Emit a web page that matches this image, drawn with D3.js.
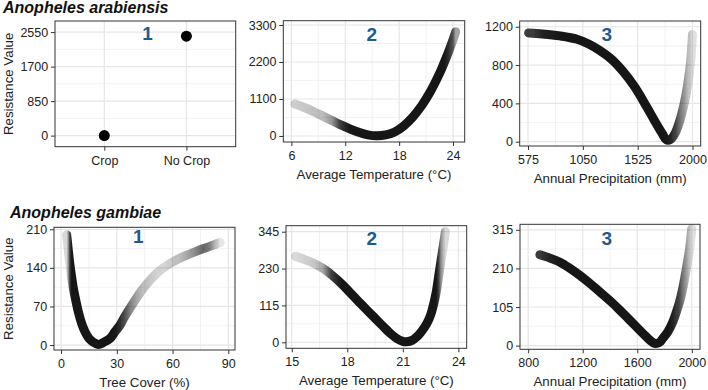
<!DOCTYPE html>
<html><head><meta charset="utf-8">
<script src="https://cdn.jsdelivr.net/npm/d3@7"></script>
<style>
html,body{margin:0;padding:0;background:#fff;}
svg{display:block;font-family:"Liberation Sans",Arial,Helvetica,sans-serif;}
</style></head><body>
<svg id="chart" width="708" height="390"></svg>
<script>
// ---------- DATA ----------
const speciesTitles = ["Anopheles arabiensis", "Anopheles gambiae"];
const yAxisTitle = "Resistance Value";
const panelNumbers = ["1", "2", "3"];

// Anopheles arabiensis – 1: crop
const araCropCategories = ["Crop", "No Crop"];
const araCropValues = [0, 2450];
const araCropTicksY = [0, 850, 1700, 2550];

// Anopheles arabiensis – 2: average temperature
const araTempX = [6.4, 7.5, 8.5, 9.5, 10.5, 11.5, 12.5, 13.5, 14.5, 15.5, 16.5, 17.5, 18.5, 19.5, 20.5, 21.5, 22.5, 23.0, 23.5, 24.0, 24.3];
const araTempY = [950, 840, 720, 590, 460, 330, 210, 110, 35, 5, 30, 120, 300, 560, 900, 1330, 1860, 2170, 2500, 2860, 3100];
const araTempAlpha = [0.2, 0.22, 0.25, 0.3, 0.45, 0.85, 1, 1, 1, 1, 1, 1, 1, 1, 1, 1, 1, 1, 0.9, 0.7, 0.4];
const araTempTicksX = [6, 12, 18, 24];
const araTempTicksY = [0, 1100, 2200, 3300];

// Anopheles arabiensis – 3: annual precipitation
const araPrecX = [580, 700, 850, 1000, 1100, 1200, 1300, 1400, 1500, 1600, 1680, 1740, 1775, 1810, 1850, 1890, 1930, 1960, 1985, 2000];
const araPrecY = [1135, 1125, 1105, 1070, 1020, 950, 860, 731, 570, 370, 200, 80, 18, 25, 90, 220, 410, 610, 850, 1120];
const araPrecAlpha = [0.8, 0.95, 1, 1, 1, 1, 1, 1, 1, 1, 1, 1, 1, 0.95, 0.8, 0.6, 0.45, 0.3, 0.2, 0.12];
const araPrecTicksX = [575, 1050, 1525, 2000];
const araPrecTicksY = [0, 400, 800, 1200];

// Anopheles gambiae – 1: tree cover
const gamTreeX = [3.0, 3.5, 4.0, 4.8, 5.7, 6.6, 8.0, 9.3, 11.0, 12.9, 15.0, 17.4, 20.0, 23.0, 26.4, 29.0, 31.7, 34.0, 37.1, 40.5, 44.3, 48.0, 51.5, 55.0, 58.7, 63.0, 67.7, 72.0, 76.6, 80.0, 85.6];
const gamTreeY = [200, 185, 169, 145, 123, 103, 80, 60, 40, 24, 12, 5, 1, 5, 12, 24, 36, 50, 67, 85, 103, 118, 130, 140, 148, 156, 163, 169, 175, 179, 186];
const gamTreeAlpha = [0.15, 0.35, 0.5, 0.85, 1, 1, 1, 1, 1, 1, 1, 1, 1, 1, 1, 1, 0.9, 0.75, 0.55, 0.4, 0.28, 0.22, 0.18, 0.16, 0.2, 0.28, 0.38, 0.5, 0.65, 0.55, 0.1];
const gamTreeTicksX = [0, 30, 60, 90];
const gamTreeTicksY = [0, 70, 140, 210];

// Anopheles gambiae – 2: average temperature
const gamTempX = [15.2, 15.7, 16.2, 16.7, 17.2, 17.7, 18.15, 18.6, 19.05, 19.5, 19.95, 20.3, 20.67, 21.0, 21.2, 21.5, 21.75, 22.0, 22.3, 22.5, 22.65, 22.8, 22.92, 23.05, 23.2, 23.3];
const gamTempY = [268, 258, 246, 230, 208, 182, 155, 128, 101, 75, 49, 29, 12, 3, 2, 6, 17, 33, 59, 85, 116, 155, 200, 250, 305, 345];
const gamTempAlpha = [0.15, 0.18, 0.22, 0.4, 0.85, 1, 1, 1, 1, 1, 1, 1, 1, 1, 1, 1, 1, 1, 1, 1, 1, 1, 0.85, 0.5, 0.3, 0.15];
const gamTempTicksX = [15, 18, 21, 24];
const gamTempTicksY = [0, 115, 230, 345];

// Anopheles gambiae – 3: annual precipitation
const gamPrecX = [886, 960, 1033, 1100, 1179, 1250, 1325, 1400, 1471, 1535, 1594, 1650, 1691, 1728, 1760, 1788, 1825, 1861, 1890, 1910, 1930, 1947, 1965, 1984, 2000];
const gamPrecY = [247, 238, 227, 212, 191, 170, 146, 122, 97, 73, 51, 30, 15, 6, 8, 20, 38, 65, 95, 119, 150, 182, 220, 264, 318];
const gamPrecAlpha = [0.85, 0.95, 1, 1, 1, 1, 1, 1, 1, 1, 1, 1, 1, 1, 1, 1, 1, 0.95, 0.85, 0.75, 0.6, 0.5, 0.4, 0.25, 0.12];
const gamPrecTicksX = [800, 1200, 1600, 2000];
const gamPrecTicksY = [0, 105, 210, 315];

const xTitles = ["Average Temperature (°C)", "Annual Precipitation (mm)", "Tree Cover (%)"];

// ---------- DRAWING ----------
const svg = d3.select("#chart");
const defs = svg.append("defs");
const FONT_TICK = 12.5, FONT_TITLE = 13.3;
const GRID = "#e6e6e6", GRID_MINOR = "#efefef";

function minorOf(ticks, domain) {
  const step = ticks[1] - ticks[0];
  const out = [];
  for (let v = ticks[0] - step / 2; v <= ticks[ticks.length - 1] + step / 2 + 1e-9; v += step) {
    if (v >= domain[0] && v <= domain[1]) out.push(v);
  }
  return out;
}

function panel(cfg) {
  const {L, R, T, B} = cfg;
  const g = svg.append("g");
  g.append("rect").attr("x", L).attr("y", T).attr("width", R - L).attr("height", B - T).attr("fill", "#fff");
  const y = d3.scaleLinear().domain(cfg.yDomain).range([B, T]);
  let x;
  if (cfg.categories) {
    x = d3.scalePoint().domain(cfg.categories).range([L, R]).padding(0.6);
  } else {
    x = d3.scaleLinear().domain(cfg.xDomain).range([L, R]);
  }
  // minor grid
  minorOf(cfg.yTicks, cfg.yDomain).forEach(v => {
    g.append("line").attr("x1", L).attr("x2", R).attr("y1", y(v)).attr("y2", y(v)).attr("stroke", GRID_MINOR).attr("stroke-width", 0.8);
  });
  if (!cfg.categories) {
    minorOf(cfg.xTicks, cfg.xDomain).forEach(v => {
      g.append("line").attr("y1", T).attr("y2", B).attr("x1", x(v)).attr("x2", x(v)).attr("stroke", GRID_MINOR).attr("stroke-width", 0.8);
    });
  }
  // major grid
  cfg.yTicks.forEach(v => {
    g.append("line").attr("x1", L).attr("x2", R).attr("y1", y(v)).attr("y2", y(v)).attr("stroke", GRID).attr("stroke-width", 1.2);
  });
  (cfg.categories || cfg.xTicks).forEach(v => {
    g.append("line").attr("y1", T).attr("y2", B).attr("x1", x(v)).attr("x2", x(v)).attr("stroke", GRID).attr("stroke-width", 1.2);
  });

  // marks
  if (cfg.categories) {
    g.selectAll("circle.pt").data(cfg.values).join("circle")
      .attr("cx", (d, i) => x(cfg.categories[i])).attr("cy", d => y(d))
      .attr("r", 5.5).attr("fill", "#000");
  } else {
    const xs = cfg.xs, ys = cfg.ys, al = cfg.alpha;
    const pts = xs.map((v, i) => [x(v), y(ys[i])]);
    const gx1 = x(d3.min(xs)) - 4, gx2 = x(d3.max(xs)) + 4;
    const grad = defs.append("linearGradient").attr("id", cfg.id)
      .attr("gradientUnits", "userSpaceOnUse")
      .attr("x1", gx1).attr("x2", gx2).attr("y1", 0).attr("y2", 0);
    xs.forEach((v, i) => {
      grad.append("stop").attr("offset", (x(v) - gx1) / (gx2 - gx1))
        .attr("stop-color", "#141414").attr("stop-opacity", al[i]);
    });
    g.append("path")
      .attr("d", d3.line().curve(d3.curveCatmullRom.alpha(0.5))(pts))
      .attr("fill", "none").attr("stroke", `url(#${cfg.id})`)
      .attr("stroke-width", 9).attr("stroke-linecap", "round").attr("stroke-linejoin", "round")
      .attr("filter", "url(#soft)");
  }

  // border
  g.append("rect").attr("x", L).attr("y", T).attr("width", R - L).attr("height", B - T)
    .attr("fill", "none").attr("stroke", "#333").attr("stroke-width", 1);

  // axes
  const ya = g.append("g").attr("transform", `translate(${L},0)`)
    .call(d3.axisLeft(y).tickValues(cfg.yTicks).tickSize(4).tickPadding(2.8).tickFormat(d3.format("d")));
  const xa = g.append("g").attr("transform", `translate(0,${B})`)
    .call((cfg.categories ? d3.axisBottom(x) : d3.axisBottom(x).tickValues(cfg.xTicks).tickFormat(d3.format("d")))
      .tickSize(4).tickPadding(5.2));
  [ya, xa].forEach(a => {
    a.select(".domain").remove();
    a.selectAll(".tick line").attr("stroke", "#333").attr("stroke-width", 1);
    a.selectAll(".tick text").attr("fill", "#222").style("font-size", FONT_TICK + "px")
      .style("font-family", '"Liberation Sans",Arial,sans-serif');
  });

  // x title
  if (cfg.xTitle) {
    g.append("text").attr("x", (L + R) / 2).attr("y", B + 37).attr("text-anchor", "middle")
      .attr("fill", "#222").style("font-size", FONT_TITLE + "px").text(cfg.xTitle);
  }
  // y title
  if (cfg.yTitle) {
    g.append("text").attr("transform", `translate(${cfg.yTitleX},${(T + B) / 2}) rotate(-90)`)
      .attr("text-anchor", "middle").attr("fill", "#222").style("font-size", FONT_TITLE + "px").text(cfg.yTitle);
  }
  // panel number
  g.append("text").attr("x", L + cfg.numDx).attr("y", T + cfg.numDy).attr("text-anchor", "middle")
    .attr("fill", "#1f5a8c").style("font-size", "19px").style("font-weight", "bold").text(cfg.num);
}

const f = defs.append("filter").attr("id", "soft").attr("x", "-10%").attr("y", "-10%").attr("width", "120%").attr("height", "120%");
f.append("feGaussianBlur").attr("stdDeviation", 0.5);

// species titles
svg.append("text").attr("x", 3).attr("y", 13).attr("fill", "#111")
  .style("font-size", "16px").style("font-weight", "bold").style("font-style", "italic").text(speciesTitles[0]);
svg.append("text").attr("x", 10).attr("y", 218).attr("fill", "#111")
  .style("font-size", "16px").style("font-weight", "bold").style("font-style", "italic").text(speciesTitles[1]);

// top row
panel({L: 55, R: 235.7, T: 21, B: 146.7, categories: araCropCategories, values: araCropValues,
  yDomain: [-273, 2823], yTicks: araCropTicksY, yTitle: yAxisTitle, yTitleX: 13,
  num: panelNumbers[0], numDx: 92.5, numDy: 19});
panel({L: 283.3, R: 464.7, T: 20.7, B: 142, xDomain: [5.1, 25.3], yDomain: [-179, 3428],
  xTicks: araTempTicksX, yTicks: araTempTicksY, xs: araTempX, ys: araTempY, alpha: araTempAlpha, id: "g1",
  xTitle: xTitles[0], num: panelNumbers[1], numDx: 88.4, numDy: 20});
panel({L: 519.7, R: 700.7, T: 21, B: 146, xDomain: [503, 2071], yDomain: [-45, 1260],
  xTicks: araPrecTicksX, yTicks: araPrecTicksY, xs: araPrecX, ys: araPrecY, alpha: araPrecAlpha, id: "g2",
  xTitle: xTitles[1], num: panelNumbers[2], numDx: 87, numDy: 19.7});

// bottom row
panel({L: 54, R: 235, T: 227.3, B: 350, xDomain: [-3.8, 93.6], yDomain: [-9, 213.6],
  xTicks: gamTreeTicksX, yTicks: gamTreeTicksY, xs: gamTreeX, ys: gamTreeY, alpha: gamTreeAlpha, id: "g3",
  xTitle: xTitles[2], yTitle: yAxisTitle, yTitleX: 13,
  num: panelNumbers[0], numDx: 84.3, numDy: 16});
panel({L: 286, R: 466.7, T: 225.7, B: 348.3, xDomain: [14.69, 24.45], yDomain: [-18.7, 363.7],
  xTicks: gamTempTicksX, yTicks: gamTempTicksY, xs: gamTempX, ys: gamTempY, alpha: gamTempAlpha, id: "g4",
  xTitle: xTitles[0], num: panelNumbers[1], numDx: 85.7, numDy: 19.3});
panel({L: 520, R: 700, T: 224.3, B: 349.3, xDomain: [740, 2060], yDomain: [-10, 330],
  xTicks: gamPrecTicksX, yTicks: gamPrecTicksY, xs: gamPrecX, ys: gamPrecY, alpha: gamPrecAlpha, id: "g5",
  xTitle: xTitles[1], num: panelNumbers[2], numDx: 86.7, numDy: 20.7});
</script>
</body></html>
